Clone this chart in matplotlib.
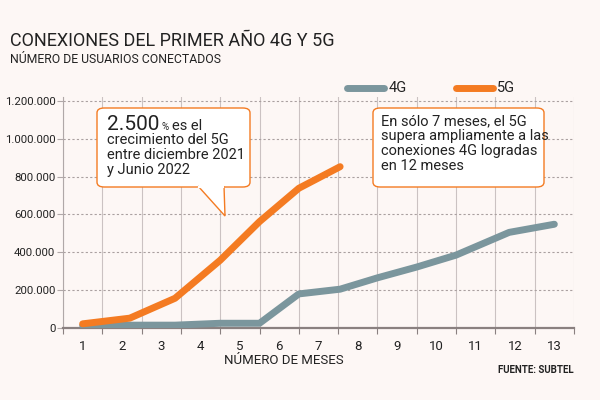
import matplotlib
matplotlib.use("Agg")
import matplotlib.pyplot as plt
from matplotlib.patches import FancyBboxPatch, Polygon
from matplotlib.ticker import FuncFormatter, FixedLocator

plt.rcParams['font.family'] = ['Roboto', 'DejaVu Sans']

# datos (posiciones en x tal como aparecen en el grafico)
meses_4g = [1, 2.2, 3.35, 4.5, 5.5, 6.5, 7.55, 8.5, 9.5, 10.5, 11.85, 13]
usuarios_4g = [12000, 15000, 15000, 25000, 25000, 180000, 205000, 265000, 322000, 385000, 505000, 548000]
meses_5g = [1, 2.2, 3.35, 4.5, 5.5, 6.5, 7.55]
usuarios_5g = [22000, 52000, 157000, 358000, 562000, 738000, 852000]
etiquetas_x = [str(i) for i in range(1, 14)]
ticks_y = [0, 200000, 400000, 600000, 800000, 1000000, 1200000]

fondo = '#fdf7f5'
gris = '#7b969d'
naranja = '#f47b22'
texto = '#222222'

W, H = 600, 400
fig = plt.figure(figsize=(6, 4), dpi=100, facecolor=fondo)
ax = fig.add_axes([63 / W, 1 - 328 / H, (574 - 63) / W, (328 - 97) / H])
ax.set_facecolor(fondo)


def px(x, y):
    return (x / W, 1 - y / H)


# lineas
ax.plot(meses_4g, usuarios_4g, color=gris, lw=5, solid_capstyle='round', solid_joinstyle='round', zorder=3)
ax.plot(meses_5g, usuarios_5g, color=naranja, lw=5, solid_capstyle='round', solid_joinstyle='round', zorder=4)

ax.set_xlim(0.5, 13.5)
ax.set_ylim(0, 1220000)

# ejes y grilla
ax.set_xticks(range(1, 14))
ax.set_xticklabels(etiquetas_x)
ax.xaxis.set_minor_locator(FixedLocator([i + 0.5 for i in range(0, 14)]))
ax.tick_params(axis='x', which='major', length=0, pad=9, labelsize=9.5, labelcolor=texto)
ax.tick_params(axis='x', which='minor', length=4, color='#8a8080', width=0.8)
ax.set_yticks(ticks_y)
ax.yaxis.set_major_formatter(FuncFormatter(lambda v, p: f'{int(v):,}'.replace(',', '.')))
ax.tick_params(axis='y', length=4, color='#b0a8a8', width=0.8, labelsize=8.2, labelcolor=texto, pad=1.5)
ax.grid(axis='x', which='minor', color='#cbc2c2', lw=0.8, ls='-')
ax.grid(axis='y', which='major', color='#aaa0a0', lw=0.8, ls=(0, (2, 2)))
ax.set_axisbelow(True)
for s in ['top', 'right']:
    ax.spines[s].set_visible(False)
ax.spines['left'].set_color('#b0a8a8')
ax.spines['left'].set_linewidth(0.8)
ax.spines['bottom'].set_color('#8a8080')
ax.spines['bottom'].set_linewidth(1.6)

# titulos
fig.text(*px(10, 46), 'CONEXIONES DEL PRIMER AÑO 4G Y 5G', fontsize=13, color=texto, va='baseline')
fig.text(*px(10, 63), 'NÚMERO DE USUARIOS CONECTADOS', fontsize=8.8, color=texto, va='baseline')
fig.text(*px(284, 364), 'NÚMERO DE MESES', fontsize=9.5, color=texto, ha='center', va='baseline')
fig.text(*px(574, 373), 'FUENTE: SUBTEL', fontsize=7, color=texto, ha='right', va='baseline', weight='bold')

# leyenda
fig.lines.append(plt.Line2D([347 / W, 384 / W], [1 - 88 / H] * 2, color=gris, lw=5, solid_capstyle='round', transform=fig.transFigure))
fig.text(*px(389, 92.5), '4G', fontsize=10.5, color=texto, va='baseline')
fig.lines.append(plt.Line2D([456 / W, 493 / W], [1 - 88 / H] * 2, color=naranja, lw=5, solid_capstyle='round', transform=fig.transFigure))
fig.text(*px(497, 92.5), '5G', fontsize=10.5, color=texto, va='baseline')


# cuadros de texto
def cuadro(x0, y0, x1, y1):
    p = FancyBboxPatch(px(x0, y1), (x1 - x0) / W, (y1 - y0) / H,
                       boxstyle='round,pad=0,rounding_size=0.012', transform=fig.transFigure,
                       facecolor='white', edgecolor=naranja, lw=1.0, zorder=10)
    fig.patches.append(p)


cuadro(97, 108, 250, 187)
cola = Polygon([px(198, 186), px(225, 216), px(224, 186)], closed=False, transform=fig.transFigure,
               facecolor='white', edgecolor=naranja, lw=1.0, zorder=11)
fig.patches.append(cola)
fig.lines.append(plt.Line2D([199 / W, 223.3 / W], [1 - 187 / H] * 2, color='white', lw=1.6,
                            transform=fig.transFigure, zorder=12))

t1 = fig.text(*px(107, 130), '2.500', fontsize=15, color=texto, va='baseline', zorder=13)
t2 = fig.text(*px(108, 130), '%', fontsize=7, color=texto, va='baseline', zorder=13)
fig.canvas.draw()
bb = t1.get_window_extent()
t2.set_x((bb.x1 + 2) / W)
bb2 = t2.get_window_extent()
fig.text((bb2.x1 + 3) / W, 1 - 130 / H, 'es el', fontsize=10.5, color=texto, va='baseline', zorder=13)
fig.text(*px(107, 133.5), 'crecimiento del 5G\nentre diciembre 2021\ny Junio 2022', fontsize=10.5,
         color=texto, va='top', linespacing=1.08, zorder=13)

cuadro(373, 108, 544, 187)
fig.text(*px(381, 114.5), 'En sólo 7 meses, el 5G\nsupera ampliamente a las\nconexiones 4G logradas\nen 12 meses',
         fontsize=10.5, color=texto, va='top', linespacing=1.08, zorder=13)

fig.savefig('out.png', dpi=100, facecolor=fondo)
